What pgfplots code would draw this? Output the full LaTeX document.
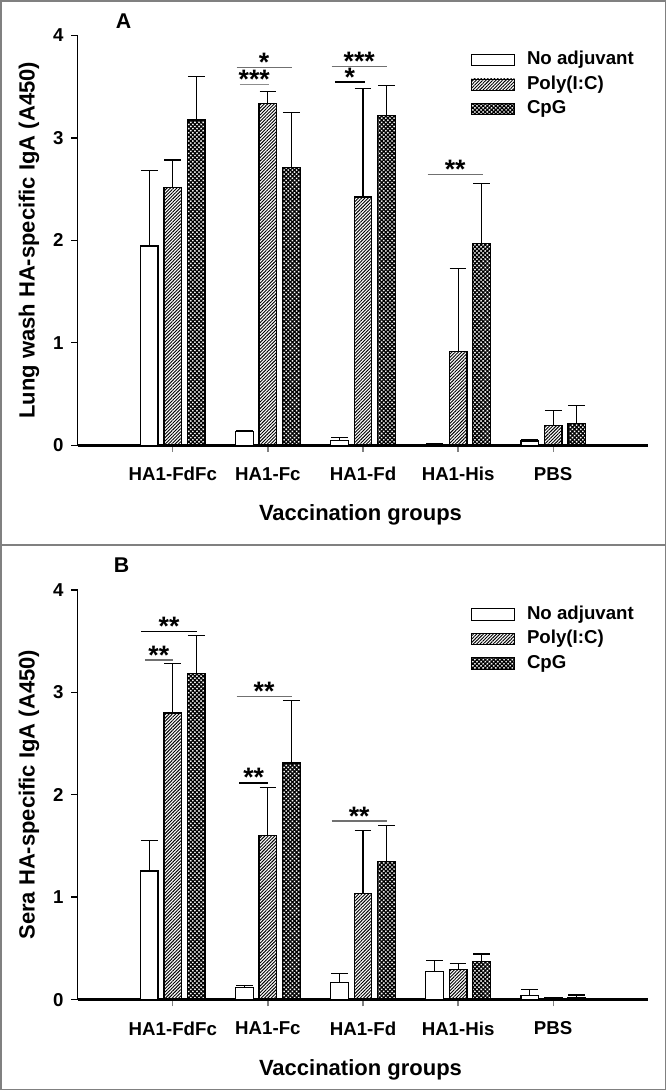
\documentclass[border=0pt]{standalone}
\usepackage{pgfplots}
\usepackage{pgfplotstable}
\pgfplotsset{compat=1.18}
\usetikzlibrary{patterns.meta}
\usepackage{fontspec}
\setmainfont{Liberation Sans}
\definecolor{framegray}{HTML}{808080}
\definecolor{siggray}{HTML}{707070}

\pgfplotstableread{
x no noe poly polye cpg cpge
0 1.945 0.74 2.515 0.27 3.174 0.43
1 0.133 0.01 3.339 0.11 2.710 0.54
2 0.045 0.035 2.423 1.06 3.216 0.30
3 0.005 0.015 0.916 0.81 1.969 0.59
4 0.040 0.02 0.195 0.14 0.210 0.18
}\dataA

\pgfplotstableread{
x no noe poly polye cpg cpge
0 1.254 0.30 2.797 0.48 3.184 0.375
1 0.120 0.02 1.600 0.475 2.309 0.615
2 0.169 0.088 1.039 0.61 1.347 0.356
3 0.273 0.105 0.296 0.055 0.370 0.075
4 0.042 0.055 0.015 0.01 0.015 0.03
}\dataB

\tikzset{
  polypat/.style={pattern={Lines[angle=45,distance=1.75pt,line width=0.7pt]}},
  cpgpat/.style={pattern={Hatch[angle=45,distance=2.2pt,line width=0.95pt]}},
  stars/.style={font=\bfseries\fontsize{20}{20}\selectfont, anchor=base, yshift=-3pt, inner sep=0pt},
}

\pgfplotsset{
  legimg/.style={legend image code/.code={\draw[##1, line width=0.6pt] (0pt,-4.25pt) rectangle (32pt,4.25pt); \path (40pt,0pt);}},
  barstyle/.style={draw=black, line width=1pt,
    error bars/y dir=plus, error bars/y explicit,
    error bars/error bar style={line width=0.8pt, black},
    error bars/error mark options={rotate=90, mark size=6.3pt, line width=0.8pt, black}},
  panel/.style={
    scale only axis, width=427.9pt, height=307.3pt,
    xmin=-1, xmax=5, ymin=0, ymax=4,
    clip=false,
    ybar=4.4pt, bar width=13.2pt,
    axis lines*=left,
    x axis line style={line width=2pt, -},
    y axis line style={line width=1.1pt, -},
    xtick={0,1,2,3,4},
    xticklabels={HA1-FdFc,HA1-Fc,HA1-Fd,HA1-His,PBS},
    ytick={0,1,2,3,4},
    tick align=outside,
    major tick length=5pt,
    xtick style={draw=gray, line width=0.9pt},
    ytick style={draw=black, line width=1pt},
    /pgf/number format/assume math mode=true,
    xticklabel style={font=\bfseries\fontsize{14}{14}\selectfont, yshift=-8pt},
    yticklabel style={font=\bfseries\fontsize{14}{14}\selectfont, xshift=-2.2pt},
    xlabel={Vaccination groups},
    xlabel style={font=\bfseries\fontsize{16.5}{16.5}\selectfont, at={(axis description cs:0.4956,-0.1707)}, anchor=center},
    ylabel style={font=\bfseries\fontsize{16.5}{16.5}\selectfont, at={(axis description cs:-0.0854,0.5)}, anchor=center},
    legend style={at={(axis description cs:0.6893,0.965)}, anchor=north west, draw=none, fill=none,
      font=\bfseries\fontsize{14}{14}\selectfont, row sep=3.4pt, inner sep=0pt,
      nodes={inner sep=1pt, text height=10pt, text depth=3pt}},
    legend cell align=left,
  }
}

\begin{document}
\begin{tikzpicture}
\useasboundingbox (0,0) rectangle (500.25pt,818.25pt);
\draw[framegray, line width=1.1pt] (0.6pt,1.2pt) rectangle (499.2pt,817.6pt);
\draw[framegray, line width=1.1pt] (0.6pt,409.5pt) -- (499.2pt,409.5pt);

% ---------------- Panel A
\begin{axis}[panel, at={(58.3pt,484.3pt)}, anchor=south west,
  ylabel={Lung wash HA-specific IgA (A450)}]
\addplot[barstyle, fill=white, legimg] table[x=x, y=no, y error=noe] {\dataA};
\addplot[barstyle, polypat, legimg] table[x=x, y=poly, y error=polye] {\dataA};
\addplot[barstyle, cpgpat, legimg] table[x=x, y=cpg, y error=cpge] {\dataA};
\legend{No adjuvant, Poly(I:C), CpG}
% significance
\draw[siggray, line width=1pt] (axis cs:0.67,3.687) -- (axis cs:1.25,3.687);
\node[stars] at (axis cs:0.96,3.687) {*};
\draw[siggray!80, line width=1pt] (axis cs:0.705,3.522) -- (axis cs:1.01,3.522);
\node[stars] at (axis cs:0.857,3.522) {***};
\draw[siggray, line width=1pt] (axis cs:1.67,3.70) -- (axis cs:2.25,3.70);
\node[stars] at (axis cs:1.96,3.70) {***};
\draw[black, line width=1.4pt] (axis cs:1.705,3.544) -- (axis cs:2.02,3.544);
\node[stars] at (axis cs:1.862,3.544) {*};
\draw[siggray, line width=1pt] (axis cs:2.68,2.641) -- (axis cs:3.26,2.641);
\node[stars] at (axis cs:2.97,2.641) {**};
\end{axis}
\node[font=\bfseries\fontsize{16}{16}\selectfont] at (92.6pt,802.1pt) {A};

% ---------------- Panel B
\begin{axis}[panel, at={(58.3pt,68.55pt)}, anchor=south west,
  ylabel={Sera HA-specific IgA (A450)}]
\addplot[barstyle, fill=white, legimg] table[x=x, y=no, y error=noe] {\dataB};
\addplot[barstyle, polypat, legimg] table[x=x, y=poly, y error=polye] {\dataB};
\addplot[barstyle, cpgpat, legimg] table[x=x, y=cpg, y error=cpge] {\dataB};
\legend{No adjuvant, Poly(I:C), CpG}
\draw[black, line width=1.3pt] (axis cs:-0.33,3.594) -- (axis cs:0.25,3.594);
\node[stars] at (axis cs:-0.04,3.594) {**};
\draw[siggray, line width=1pt] (axis cs:-0.295,3.315) -- (axis cs:0.0,3.315);
\node[stars] at (axis cs:-0.147,3.315) {**};
\draw[siggray, line width=1.1pt] (axis cs:0.67,2.957) -- (axis cs:1.25,2.957);
\node[stars] at (axis cs:0.96,2.957) {**};
\draw[black, line width=1.2pt] (axis cs:0.70,2.117) -- (axis cs:1.0,2.117);
\node[stars] at (axis cs:0.85,2.117) {**};
\draw[siggray, line width=1pt] (axis cs:1.67,1.742) -- (axis cs:2.25,1.742);
\node[stars] at (axis cs:1.96,1.742) {**};
\end{axis}
\node[font=\bfseries\fontsize{16}{16}\selectfont] at (91.1pt,394.1pt) {B};
\end{tikzpicture}
\end{document}
